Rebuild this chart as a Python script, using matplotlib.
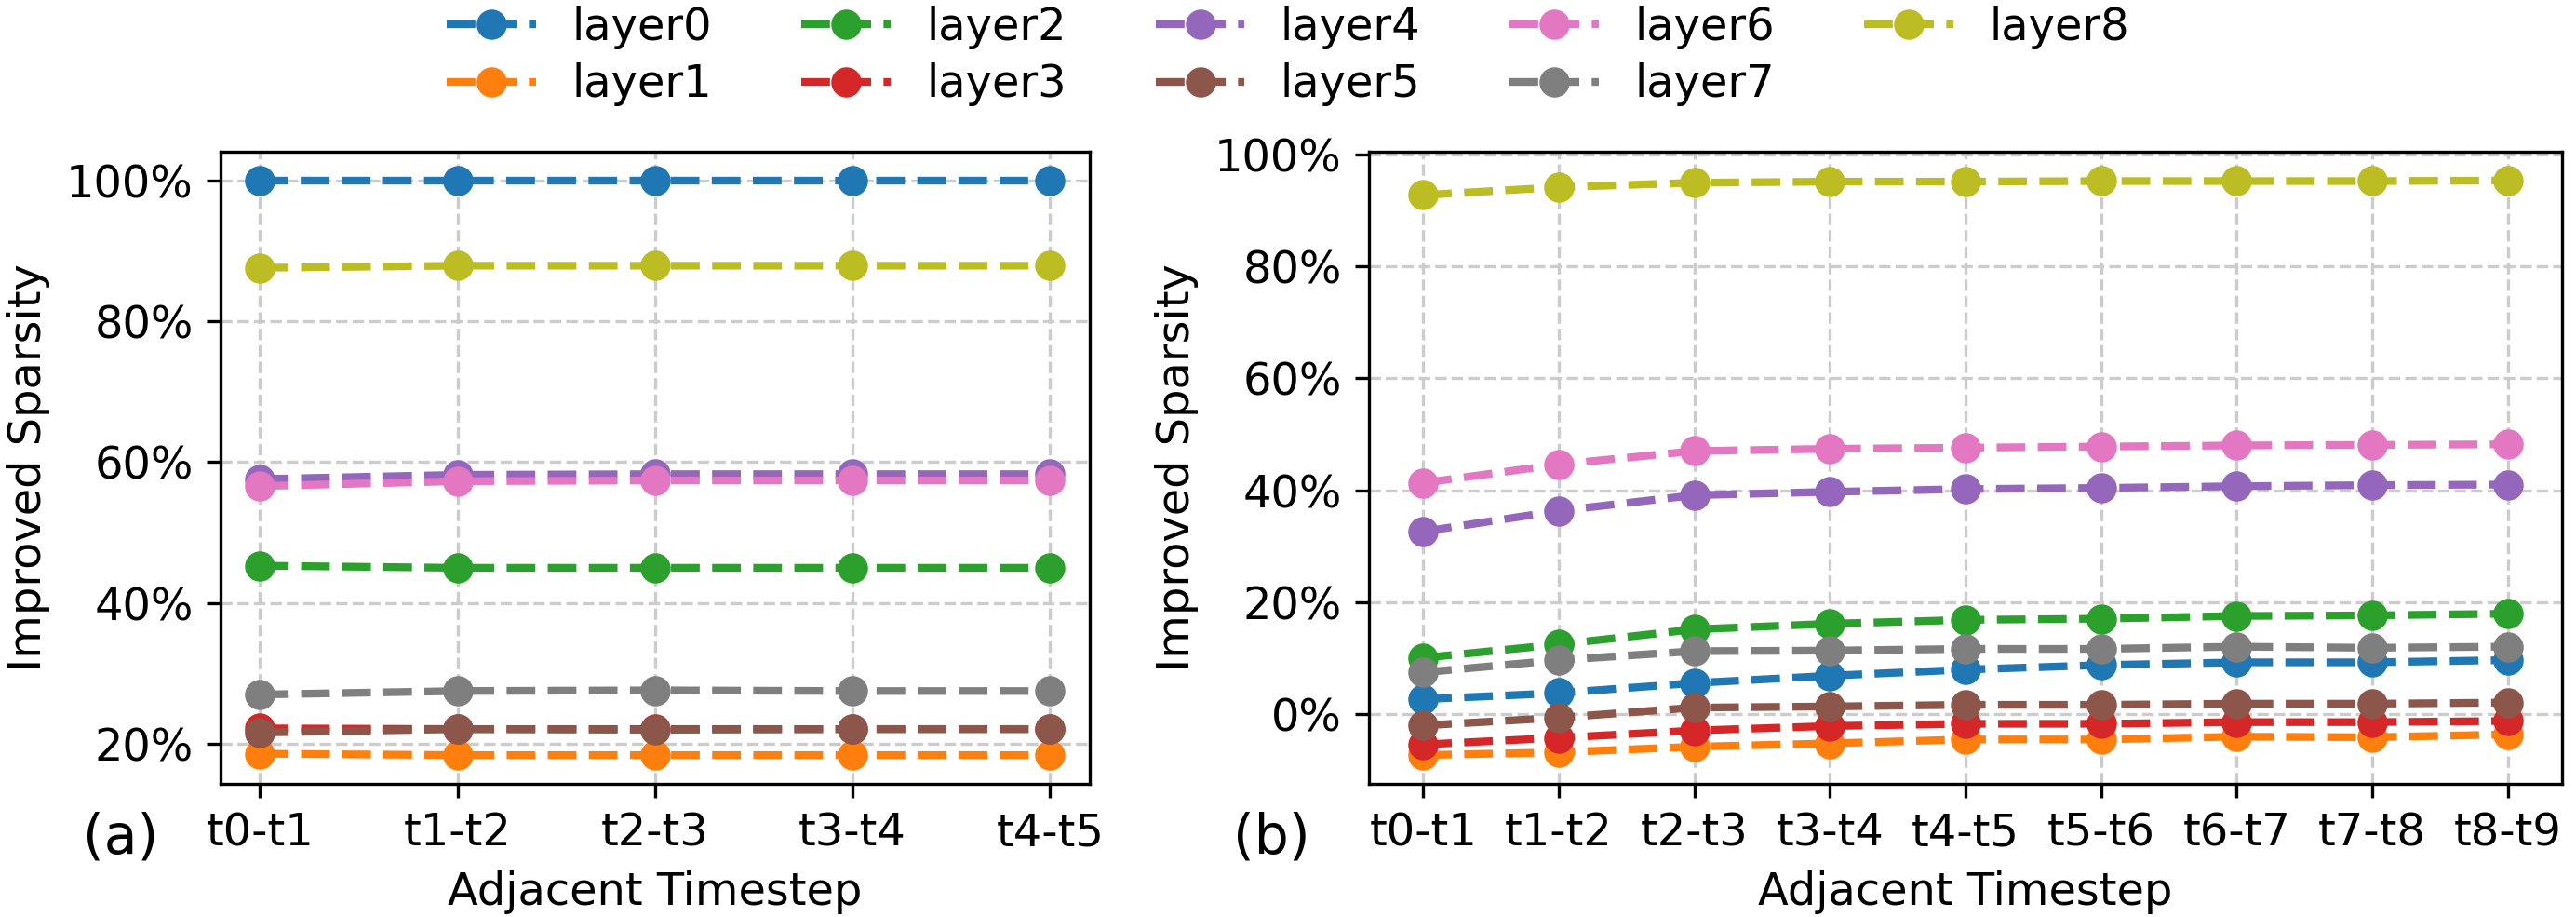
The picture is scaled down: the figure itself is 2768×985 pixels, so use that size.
import matplotlib.pyplot as plt
from matplotlib.ticker import FuncFormatter

labels_a = ["t0-t1", "t1-t2", "t2-t3", "t3-t4", "t4-t5"]
labels_b = ["t0-t1", "t1-t2", "t2-t3", "t3-t4", "t4-t5", "t5-t6", "t6-t7", "t7-t8", "t8-t9"]
layer_names = [f"layer{i}" for i in range(9)]

# (a) improved sparsity per layer, in percent
layer0_a = [100.0, 100.0, 100.0, 100.0, 100.0]
layer1_a = [18.6, 18.4, 18.4, 18.4, 18.4]
layer2_a = [45.3, 45.0, 45.0, 45.0, 45.0]
layer3_a = [22.2, 22.1, 22.1, 22.1, 22.1]
layer4_a = [57.6, 58.2, 58.3, 58.3, 58.3]
layer5_a = [21.6, 22.1, 22.0, 22.1, 22.1]
layer6_a = [56.6, 57.3, 57.4, 57.4, 57.4]
layer7_a = [27.0, 27.5, 27.6, 27.5, 27.5]
layer8_a = [87.6, 87.9, 87.9, 87.9, 87.9]

# (b)
layer0_b = [2.6, 3.7, 5.5, 6.8, 7.9, 8.7, 9.2, 9.2, 9.6]
layer1_b = [-7.4, -6.9, -5.9, -5.3, -4.6, -4.6, -4.1, -4.2, -3.7]
layer2_b = [10.0, 12.4, 15.1, 16.1, 16.8, 17.0, 17.5, 17.6, 17.9]
layer3_b = [-5.5, -4.3, -3.0, -2.2, -1.8, -1.8, -1.5, -1.5, -1.3]
layer4_b = [32.6, 36.3, 39.1, 39.7, 40.2, 40.4, 40.7, 40.9, 41.0]
layer5_b = [-2.1, -0.7, 1.1, 1.3, 1.6, 1.6, 1.8, 1.8, 2.0]
layer6_b = [41.3, 44.6, 47.0, 47.4, 47.6, 47.8, 48.0, 48.1, 48.2]
layer7_b = [7.4, 9.6, 11.2, 11.3, 11.6, 11.6, 12.0, 11.8, 12.0]
layer8_b = [92.8, 94.2, 95.0, 95.2, 95.2, 95.3, 95.3, 95.3, 95.4]

series_a = [layer0_a, layer1_a, layer2_a, layer3_a, layer4_a, layer5_a, layer6_a, layer7_a, layer8_a]
series_b = [layer0_b, layer1_b, layer2_b, layer3_b, layer4_b, layer5_b, layer6_b, layer7_b, layer8_b]

fs = 11.5
plt.rcParams['font.size'] = fs

fig = plt.figure(figsize=(2768 / 300, 985 / 300), dpi=300)
ax_a = fig.add_axes([0.0856, 0.1452, 0.3374, 0.6893])
ax_b = fig.add_axes([0.5314, 0.1452, 0.4632, 0.6893])

pct = FuncFormatter(lambda v, _: f"{v:.0f}%")

for ax, labels, series in [(ax_a, labels_a, series_a), (ax_b, labels_b, series_b)]:
    x = list(range(len(labels)))
    for name, vals in zip(layer_names, series):
        ax.plot(x, vals, linestyle='--', marker='o', linewidth=2, markersize=6.8, label=name)
    ax.set_xticks(x)
    ax.set_xticklabels(labels)
    ax.yaxis.set_major_formatter(pct)
    ax.set_xlabel("Adjacent Timestep", fontsize=fs)
    ax.set_ylabel("Improved Sparsity", fontsize=fs)
    ax.tick_params(labelsize=fs)
    ax.grid(True, linestyle='--', color='#cccccc', linewidth=0.8)

ax_a.set_yticks([20, 40, 60, 80, 100])
ax_b.set_yticks([0, 20, 40, 60, 80, 100])

fig.text(130 / 2768, 1 - 900 / 985, "(a)", fontsize=14, ha='center', va='center')
fig.text(1366 / 2768, 1 - 900 / 985, "(b)", fontsize=14, ha='center', va='center')

handles, names = ax_a.get_legend_handles_labels()
fig.legend(handles, names, loc='center', bbox_to_anchor=(0.5, 0.939), ncol=5,
           frameon=False, fontsize=fs, labelspacing=0.3)

fig.savefig("out.png", dpi=300)
